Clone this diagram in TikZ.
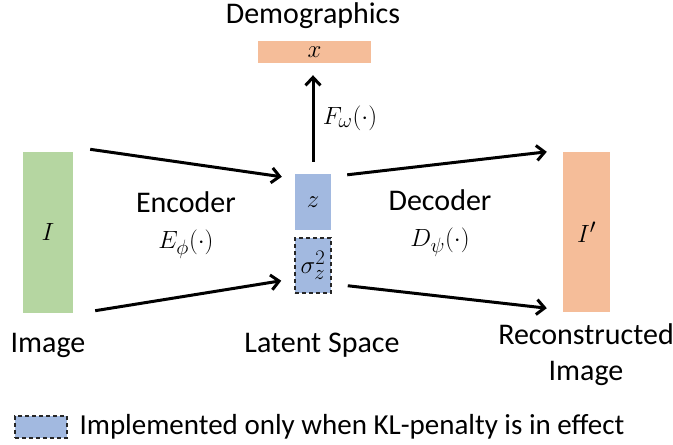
\documentclass[tikz,border=0pt]{standalone}
\usepackage{amsmath}
\usepackage{fontspec}
\setmainfont{Carlito}
\usepackage{tikz}
\usepackage{xcolor}
\usetikzlibrary{arrows.meta}

\definecolor{imggreen}{RGB}{181,214,161}
\definecolor{latblue}{RGB}{162,185,224}
\definecolor{outorange}{RGB}{245,189,153}

\begin{document}
\begin{tikzpicture}[x=1pt,y=-1pt,
    font=\fontsize{30}{36}\selectfont,
    box/.style={rectangle, inner sep=0pt},
    optbox/.style={box, fill=latblue, draw=black!85, line width=1.5pt, dash pattern=on 4pt off 3pt},
    arr/.style={-{Straight Barb[length=8pt,width=15pt,line width=3pt]}, line width=3pt}]
    \useasboundingbox (0,0) rectangle (673,445);
    % input, latent and output blocks
    \node[box, fill=imggreen, minimum width=50pt, minimum height=161pt] (img) at (48,232) {$I$};
    \node[box, fill=latblue, minimum width=36pt, minimum height=56pt] (z) at (313,202) {$z$};
    \node[optbox, minimum width=36pt, minimum height=55pt] (sig) at (313,265.5) {$\sigma_z^2$};
    \node[box, fill=outorange, minimum width=47pt, minimum height=160pt] (rec) at (586.5,232) {$I'$};
    \node[box, fill=outorange, minimum width=113pt, minimum height=22pt] (demo) at (314.5,52) {$x$};
    % labels
    \node[anchor=base] (demolbl) at (313,23) {Demographics};
    \node (imglbl) at (48,345) {Image};
    \node (latlbl) at (322,345) {Latent Space};
    \node[align=center] (reclbl) at (586,355) {Reconstructed\\Image};
    \node[align=center] (enc) at (186,225) {Encoder\\$E_\phi(\cdot)$};
    \node[align=center] (dec) at (440,223) {Decoder\\$D_\psi(\cdot)$};
    \node (fw) at (350,118) {$F_\omega(\cdot)$};
    % arrows
    \draw[arr] ([xshift=17pt,yshift=2pt]img.north east) -- ([xshift=-13pt,yshift=-3pt]z.north west);
    \draw[arr] ([xshift=22pt,yshift=2pt]img.south east) -- ([xshift=-13pt,yshift=13pt]sig.south west);
    \draw[arr] ([xshift=16pt,yshift=-1pt]z.north east) -- ([xshift=-16pt]rec.north west);
    \draw[arr] ([xshift=16pt,yshift=8pt]sig.south east) -- ([xshift=-16pt,yshift=4pt]rec.south west);
    \draw[arr] ([yshift=12pt]z.north) -- ([xshift=-1.5pt,yshift=-12pt]demo.south);
    % legend
    \node[optbox, minimum width=52pt, minimum height=22pt] (leg) at (41,427) {};
    \node[anchor=west, font=\fontsize{29}{34}\selectfont] (legtxt) at (76,427) {Implemented only when KL-penalty is in effect};
\end{tikzpicture}
\end{document}
